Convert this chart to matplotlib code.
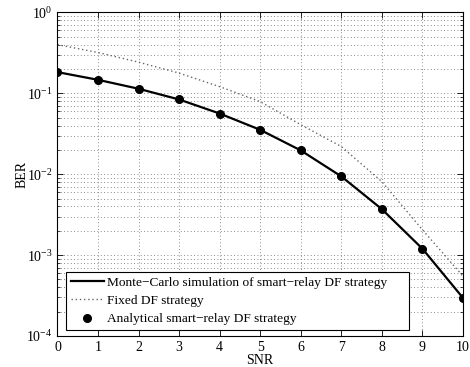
import numpy as np
import matplotlib
matplotlib.use("Agg")
import matplotlib.pyplot as plt
from matplotlib.ticker import LogLocator, FixedLocator

plt.rcParams['font.family'] = ['Liberation Serif', 'DejaVu Serif']
plt.rcParams['mathtext.fontset'] = 'stix'

# data
snr = [0, 1, 2, 3, 4, 5, 6, 7, 8, 9, 10]
ber_mc = [0.183, 0.147, 0.114, 0.084, 0.0563, 0.0354, 0.0197, 0.0094, 0.0037, 0.0012, 0.000296]
ber_fixed = [0.40, 0.32, 0.243, 0.178, 0.121, 0.079, 0.041, 0.022, 0.0081, 0.00206, 0.00055]
ber_analytic = [0.183, 0.147, 0.114, 0.084, 0.0563, 0.0354, 0.0197, 0.0094, 0.0037, 0.0012, 0.000296]

fig = plt.figure(figsize=(4.7, 3.67), dpi=100)
ax = fig.add_axes([0.1223, 0.0845, 0.8627, 0.8815])

# trailing spaces give the extra room on the right of the legend box
ax.semilogy(snr, ber_mc, '-', color='k', lw=1.6,
            label='Monte\u2212Carlo simulation of smart\u2212relay DF strategy     ')
ax.semilogy(snr, ber_fixed, linestyle=(0, (1, 2)), color='0.4', lw=1.0, label='Fixed DF strategy')
ax.semilogy(snr, ber_analytic, 'o', color='k', ms=5.5, label='Analytical smart\u2212relay DF strategy')

ax.set_xlim(0, 10)
ax.set_ylim(1e-4, 1)
ax.xaxis.set_major_locator(FixedLocator(range(0, 11)))
ax.yaxis.set_major_locator(LogLocator(base=10, numticks=10))
ax.yaxis.set_minor_locator(LogLocator(base=10, subs=np.arange(2, 10), numticks=20))
ax.tick_params(which='both', direction='in', top=True, right=True, labelsize=10)
ax.tick_params(which='major', length=4, width=0.6)
ax.tick_params(which='minor', length=2, width=0.5)
ax.grid(True, which='major', linestyle=(0, (1, 3)), color='0.4', lw=0.6)
ax.grid(True, which='minor', linestyle=(0, (1, 3)), color='0.4', lw=0.6)
for s in ax.spines.values():
    s.set_linewidth(0.8)

ax.set_xlabel('SNR', fontsize=10, labelpad=0)
ax.set_ylabel('BER', fontsize=10, labelpad=-1.5)

leg = ax.legend(loc='lower left', fontsize=9.6, fancybox=False, framealpha=1,
                edgecolor='k', borderpad=0.35, labelspacing=0.45, handlelength=2.45,
                handletextpad=0.25, borderaxespad=0,
                bbox_to_anchor=(0.022, 0.0186))
leg.get_frame().set_linewidth(0.8)

fig.savefig('out.png', dpi=100)
